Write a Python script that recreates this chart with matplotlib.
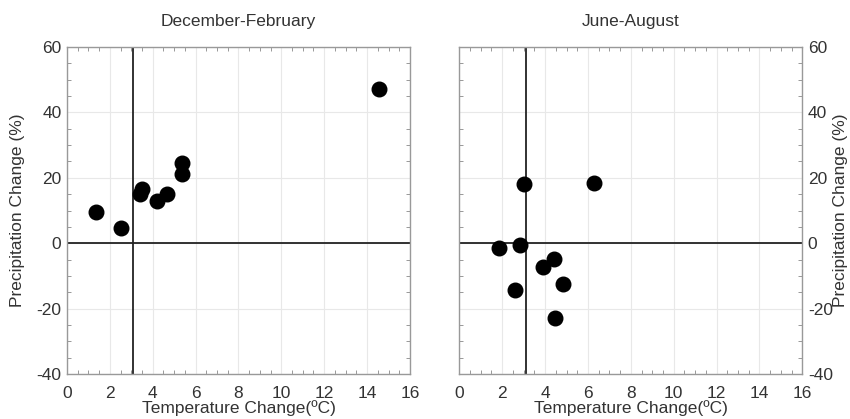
import numpy as np
import matplotlib.pyplot as plt
from matplotlib.ticker import MultipleLocator

plt.rcParams["font.family"] = ["Liberation Sans", "DejaVu Sans"]
plt.rcParams["axes.unicode_minus"] = False

# December-February
djf_temp = [1.37, 2.52, 3.42, 3.52, 4.18, 4.66, 5.36, 5.36, 14.57]
djf_prec = [9.6, 4.5, 15.0, 16.5, 13.0, 14.9, 21.1, 24.4, 47.1]

# June-August
jja_temp = [1.85, 2.83, 3.03, 6.28, 4.41, 3.88, 2.61, 4.83, 4.46]
jja_prec = [-1.4, -0.7, 18.1, 18.3, -4.8, -7.4, -14.3, -12.6, -22.8]

titles = ["December-February", "June-August"]
ref_temp = 3.1
textcol = "#333333"
fs = 12.5

fig = plt.figure(figsize=(8.5, 4.19), dpi=100)
ax1 = fig.add_axes([0.0788, 0.1074, 0.4035, 0.7804])
ax2 = fig.add_axes([0.5404, 0.1074, 0.4035, 0.7804])

for ax, tt, pp, title in [(ax1, djf_temp, djf_prec, titles[0]),
                          (ax2, jja_temp, jja_prec, titles[1])]:
    ax.set_xlim(0, 16)
    ax.set_ylim(-40, 60)
    ax.xaxis.set_major_locator(MultipleLocator(2))
    ax.xaxis.set_minor_locator(MultipleLocator(0.5))
    ax.yaxis.set_major_locator(MultipleLocator(20))
    ax.yaxis.set_minor_locator(MultipleLocator(5))
    ax.grid(True, which="major", color="#e8e8e8", lw=0.8)
    ax.set_axisbelow(True)
    ax.tick_params(which="both", direction="in", top=True, right=True,
                   color="#888888", labelsize=fs, labelcolor=textcol)
    ax.tick_params(axis="x", which="major", length=0, pad=9)
    ax.tick_params(axis="y", which="major", length=0, pad=4)
    ax.tick_params(which="minor", length=3)
    for s in ax.spines.values():
        s.set_color("#999999")
        s.set_linewidth(1)
    ax.axhline(0, color="#222222", lw=1.3, zorder=2)
    ax.axvline(ref_temp, color="#222222", lw=1.3, zorder=2)
    ax.scatter(tt, pp, s=110, color="black", zorder=3)
    ax.set_title(title, fontsize=fs, color=textcol, pad=15)
    ax.set_xlabel("Temperature Change(\u00baC)", fontsize=fs, color=textcol, labelpad=-1)
    ax.set_ylabel("Precipitation Change (%)", fontsize=fs, color=textcol)

ax1.yaxis.set_label_coords(-0.122, 0.5)

ax2.yaxis.tick_right()
ax2.yaxis.set_label_position("right")
ax2.tick_params(which="both", left=True, right=True, labelleft=False, labelright=True)
ax2.yaxis.set_label_coords(1.09, 0.5)

fig.savefig("out.png", dpi=100)
